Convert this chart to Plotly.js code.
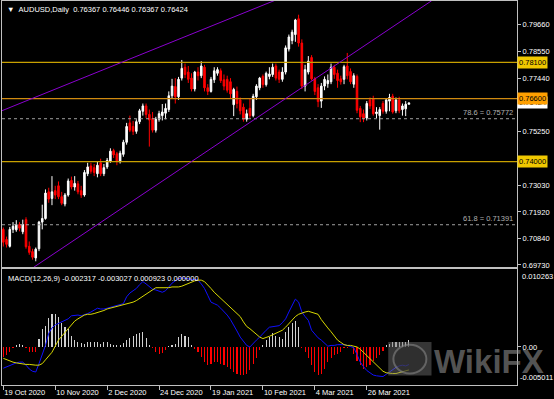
<!DOCTYPE html>
<html>
<head>
<meta charset="utf-8">
<script src="https://cdn.plot.ly/plotly-3.0.1.min.js"></script>
<style>
html,body{margin:0;padding:0;background:#000;overflow:hidden;}
#chart{width:554px;height:399px;}
</style>
</head>
<body>
<div id="chart"></div>
<script>
const symbolName = 'AUDUSD,Daily';
const dates = [
'2020-10-19','2020-10-20','2020-10-21','2020-10-22','2020-10-23','2020-10-26','2020-10-27','2020-10-28','2020-10-29','2020-10-30',
'2020-11-02','2020-11-03','2020-11-04','2020-11-05','2020-11-06','2020-11-09','2020-11-10','2020-11-11','2020-11-12','2020-11-13','2020-11-16','2020-11-17','2020-11-18','2020-11-19','2020-11-20','2020-11-23','2020-11-24','2020-11-25','2020-11-26','2020-11-27','2020-11-30',
'2020-12-01','2020-12-02','2020-12-03','2020-12-04','2020-12-07','2020-12-08','2020-12-09','2020-12-10','2020-12-11','2020-12-14','2020-12-15','2020-12-16','2020-12-17','2020-12-18','2020-12-21','2020-12-22','2020-12-23','2020-12-24','2020-12-28','2020-12-29','2020-12-30','2020-12-31',
'2021-01-04','2021-01-05','2021-01-06','2021-01-07','2021-01-08','2021-01-11','2021-01-12','2021-01-13','2021-01-14','2021-01-15','2021-01-18','2021-01-19','2021-01-20','2021-01-21','2021-01-22','2021-01-25','2021-01-26','2021-01-27','2021-01-28','2021-01-29',
'2021-02-01','2021-02-02','2021-02-03','2021-02-04','2021-02-05','2021-02-08','2021-02-09','2021-02-10','2021-02-11','2021-02-12','2021-02-15','2021-02-16','2021-02-17','2021-02-18','2021-02-19','2021-02-22','2021-02-23','2021-02-24','2021-02-25','2021-02-26',
'2021-03-01','2021-03-02','2021-03-03','2021-03-04','2021-03-05','2021-03-08','2021-03-09','2021-03-10','2021-03-11','2021-03-12','2021-03-15','2021-03-16','2021-03-17','2021-03-18','2021-03-19','2021-03-22','2021-03-23','2021-03-24','2021-03-25','2021-03-26','2021-03-29','2021-03-30','2021-03-31',
'2021-04-01','2021-04-02','2021-04-05','2021-04-06','2021-04-07','2021-04-08','2021-04-09','2021-04-12','2021-04-13','2021-04-14'];

const open = [
0.7120,0.7078,0.7050,0.7120,0.7118,0.7140,0.7110,0.7160,0.7050,0.7028,
0.7002,0.7040,0.7150,0.7165,0.7275,0.7248,0.7280,0.7300,0.7255,0.7225,
0.7262,0.7322,0.7295,0.7308,0.7280,0.7262,0.7350,0.7382,0.7375,0.7350,
0.7395,0.7350,0.7378,0.7401,0.7445,0.7432,0.7400,0.7430,0.7480,0.7560,
0.7545,0.7525,0.7565,0.7608,0.7630,0.7595,0.7578,0.7530,0.7575,0.7590,
0.7600,0.7615,0.7672,0.7710,0.7668,0.7745,0.7790,0.7770,0.7745,0.7700,
0.7770,0.7755,0.7790,0.7705,0.7690,0.7738,0.7765,0.7775,0.7738,0.7740,
0.7730,0.7635,0.7690,0.7655,0.7625,0.7575,0.7620,0.7590,0.7668,0.7705,
0.7752,0.7718,0.7752,0.7760,0.7795,0.7770,0.7740,0.7770,0.7865,0.7900,
0.7925,0.7990,0.7890,0.7712,0.7770,0.7830,0.7742,0.7705,0.7650,0.7712,
0.7722,0.7730,0.7790,0.7765,0.7742,0.7740,0.7795,0.7772,0.7720,0.7752,
0.7620,0.7598,0.7580,0.7655,0.7660,0.7598,0.7590,0.7640,0.7608,0.7650,
0.7670,0.7610,0.7655,0.7615,0.7618,0.76367];
const high = [
0.7128,0.7090,0.7130,0.7150,0.7158,0.7150,0.7160,0.7170,0.7070,0.7040,
0.7045,0.7155,0.7222,0.7285,0.7292,0.7340,0.7300,0.7318,0.7275,0.7270,
0.7330,0.7338,0.7340,0.7320,0.7300,0.7365,0.7395,0.7395,0.7390,0.7400,
0.7412,0.7390,0.7415,0.7455,0.7453,0.7440,0.7445,0.7490,0.7560,0.7590,
0.7568,0.7575,0.7618,0.7640,0.7640,0.7615,0.7605,0.7585,0.7610,0.7638,
0.7640,0.7690,0.7742,0.7745,0.7750,0.7820,0.7805,0.7795,0.7765,0.7775,
0.7790,0.7815,0.7800,0.7720,0.7750,0.7790,0.7790,0.7785,0.7760,0.7755,
0.7745,0.7705,0.7710,0.7665,0.7640,0.7615,0.7660,0.7680,0.7720,0.7750,
0.7760,0.7772,0.7790,0.7805,0.7805,0.7780,0.7790,0.7880,0.7925,0.7945,
0.7990,0.8007,0.7905,0.7800,0.7836,0.7840,0.7750,0.7720,0.7725,0.7752,
0.7760,0.7805,0.7800,0.7780,0.7755,0.7800,0.7849,0.7785,0.7765,0.7760,
0.7630,0.7615,0.7650,0.7665,0.7672,0.7625,0.7625,0.7650,0.7662,0.7680,
0.7680,0.7665,0.7668,0.7640,0.7650,0.76446];
const low = [
0.7049,0.7045,0.7045,0.7105,0.7110,0.7112,0.7100,0.7040,0.7015,0.6995,
0.6988,0.7030,0.7120,0.7160,0.7230,0.7220,0.7245,0.7245,0.7220,0.7215,
0.7255,0.7285,0.7280,0.7265,0.7250,0.7255,0.7340,0.7350,0.7340,0.7335,
0.7340,0.7340,0.7370,0.7395,0.7415,0.7385,0.7392,0.7420,0.7470,0.7522,
0.7510,0.7515,0.7555,0.7590,0.7580,0.7462,0.7520,0.7520,0.7565,0.7570,
0.7575,0.7605,0.7662,0.7640,0.7655,0.7735,0.7745,0.7725,0.7690,0.7690,
0.7735,0.7745,0.7690,0.7675,0.7685,0.7725,0.7755,0.7725,0.7695,0.7685,
0.7660,0.7588,0.7620,0.7595,0.7565,0.7565,0.7580,0.7583,0.7655,0.7695,
0.7705,0.7710,0.7740,0.7750,0.7735,0.7725,0.7730,0.7760,0.7855,0.7885,
0.7895,0.7875,0.7700,0.7690,0.7760,0.7735,0.7675,0.7625,0.7622,0.7695,
0.7705,0.7720,0.7742,0.7705,0.7718,0.7720,0.7740,0.7720,0.7705,0.7600,
0.7563,0.7563,0.7570,0.7618,0.7590,0.7580,0.7532,0.7598,0.7598,0.7608,
0.7598,0.7600,0.7600,0.7590,0.7588,0.76367];
const close = [
0.7067,0.7058,0.7120,0.7133,0.7140,0.7125,0.7140,0.7048,0.7025,0.7005,
0.7038,0.7150,0.7165,0.7270,0.7245,0.7275,0.7262,0.7255,0.7228,0.7262,
0.7320,0.7295,0.7310,0.7275,0.7262,0.7355,0.7378,0.7360,0.7355,0.7385,
0.7350,0.7375,0.7405,0.7443,0.7428,0.7400,0.7435,0.7480,0.7545,0.7530,
0.7525,0.7565,0.7610,0.7630,0.7595,0.7572,0.7530,0.7575,0.7598,0.7605,
0.7620,0.7672,0.7712,0.7668,0.7740,0.7785,0.7760,0.7740,0.7700,0.7770,
0.7755,0.7795,0.7705,0.7690,0.7740,0.7775,0.7780,0.7735,0.7712,0.7695,
0.7680,0.7698,0.7640,0.7610,0.7575,0.7598,0.7590,0.7670,0.7712,0.7745,
0.7718,0.7765,0.7762,0.7790,0.7745,0.7740,0.7770,0.7870,0.7915,0.7935,
0.7985,0.7890,0.7712,0.7780,0.7815,0.7742,0.7690,0.7648,0.7712,0.7740,
0.7735,0.7790,0.7760,0.7735,0.7730,0.7792,0.7755,0.7730,0.7755,0.7612,
0.7585,0.7580,0.7640,0.7630,0.7598,0.7605,0.7615,0.7608,0.7655,0.7665,
0.7605,0.7655,0.7610,0.7630,0.7637,0.76424];

const macdMain = [
-0.0028,-0.0026,-0.0024,-0.0022,-0.0021,-0.0020,-0.0020,-0.0024,-0.0029,-0.0032,
-0.0033,-0.0022,-0.0010,0.0002,0.0018,0.0025,0.0029,0.0031,0.0033,0.0035,
0.0037,0.0041,0.0042,0.0042,0.0041,0.0042,0.0044,0.0046,0.0048,0.0051,
0.0050,0.0050,0.0051,0.0052,0.0053,0.0054,0.0055,0.0057,0.0066,0.0071,
0.0074,0.0077,0.0082,0.0086,0.0083,0.0079,0.0076,0.0075,0.0073,0.0072,
0.0074,0.0079,0.0084,0.0087,0.0090,0.0091,0.0090,0.0090,0.0089,0.0089,
0.0088,0.0083,0.0077,0.0068,0.0059,0.0057,0.0055,0.0051,0.0047,0.0042,
0.0036,0.0029,0.0021,0.0013,0.0008,0.0002,0.0000,0.0005,0.0009,0.0013,
0.0018,0.0022,0.0026,0.0027,0.0028,0.0028,0.0032,0.0037,0.0046,0.0055,
0.0063,0.0059,0.0046,0.0040,0.0035,0.0022,0.0017,0.0012,0.0009,0.0005,
0.0001,0.0002,0.0002,0.0003,0.0003,0.0003,0.0002,0.0001,-0.0001,-0.0010,
-0.0020,-0.0026,-0.0031,-0.0034,-0.0037,-0.0038,-0.0039,-0.0039,-0.0036,-0.0033,
-0.0029,-0.0027,-0.0025,-0.0024,-0.0025,-0.002317];
const macdSignal = [
-0.0015,-0.0017,-0.0019,-0.0020,-0.0021,-0.0022,-0.0022,-0.0023,-0.0023,-0.0024,
-0.0024,-0.0024,-0.0022,-0.0017,-0.0012,-0.0007,0.0001,0.0009,0.0014,0.0019,
0.0024,0.0030,0.0034,0.0037,0.0040,0.0042,0.0043,0.0043,0.0044,0.0045,
0.0047,0.0048,0.0050,0.0051,0.0053,0.0054,0.0054,0.0055,0.0056,0.0058,
0.0059,0.0061,0.0064,0.0067,0.0070,0.0073,0.0076,0.0078,0.0078,0.0078,
0.0078,0.0078,0.0079,0.0079,0.0079,0.0080,0.0082,0.0083,0.0085,0.0087,
0.0088,0.0088,0.0086,0.0082,0.0077,0.0072,0.0068,0.0065,0.0061,0.0057,
0.0053,0.0049,0.0044,0.0040,0.0033,0.0027,0.0024,0.0020,0.0016,0.0013,
0.0011,0.0012,0.0014,0.0016,0.0018,0.0020,0.0022,0.0026,0.0031,0.0035,
0.0040,0.0043,0.0045,0.0046,0.0047,0.0046,0.0045,0.0043,0.0036,0.0030,
0.0025,0.0020,0.0014,0.0009,0.0006,0.0003,0.0002,0.0002,0.0001,0.0000,
-0.0003,-0.0007,-0.0011,-0.0015,-0.0020,-0.0024,-0.0028,-0.0032,-0.0034,-0.0035,
-0.0035,-0.0035,-0.0034,-0.0032,-0.0031,-0.003027];
const macdHist = [
-0.0013,-0.0011,-0.0007,-0.0002,0.0002,0.0004,0.0003,-0.0001,-0.0007,-0.0007,
-0.0006,0.0011,0.0024,0.0028,0.0038,0.0043,0.0043,0.0040,0.0031,0.0026,
0.0024,0.0015,0.0009,0.0006,0.0005,0.0004,0.0007,0.0007,0.0007,0.0006,
0.0004,0.0006,0.0007,0.0004,0.0003,0.0003,0.0002,0.0005,0.0009,0.0012,
0.0015,0.0017,0.0019,0.0020,0.0012,0.0003,-0.0002,-0.0007,-0.0009,-0.0008,
-0.0004,0.0001,0.0002,0.0004,0.0013,0.0017,0.0015,0.0013,0.0002,-0.0003,
-0.0007,-0.0013,-0.0020,-0.0024,-0.0022,-0.0020,-0.0020,-0.0022,-0.0024,-0.0026,
-0.0029,-0.0033,-0.0035,-0.0037,-0.0037,-0.0036,-0.0030,-0.0022,-0.0015,-0.0004,
0.0002,0.0009,0.0013,0.0018,0.0015,0.0013,0.0011,0.0020,0.0026,0.0031,
0.0034,0.0026,-0.0002,-0.0007,-0.0015,-0.0024,-0.0033,-0.0037,-0.0035,-0.0029,
-0.0020,-0.0015,-0.0011,-0.0009,-0.0006,-0.0002,-0.0001,0.0000,-0.0009,-0.0018,
-0.0024,-0.0029,-0.0026,-0.0024,-0.0018,-0.0015,-0.0011,-0.0005,0.0002,0.0004,
0.0006,0.0007,0.0007,0.0007,0.0007,0.000923];
const macdExtra = 0.0;
const macdParams = '12,26,9';

const timeTickDates = ['2020-10-19','2020-11-10','2020-12-02','2020-12-24','2021-01-19','2021-02-10','2021-03-04','2021-03-26'];
const timeTickLabels = ['19 Oct 2020','10 Nov 2020','2 Dec 2020','24 Dec 2020','19 Jan 2021','10 Feb 2021','4 Mar 2021','26 Mar 2021'];
const priceTicks = [0.7966,0.7855,0.7744,0.7525,0.7303,0.7192,0.7084,0.6973];
const levelPrices = [0.781, 0.766, 0.740];
const fibLevels = [0.75772, 0.71391];
const fibNames = ['78.6', '61.8'];
const macdScaleMax = 0.010263;
const macdScaleMin = -0.005011;
const trendLowerX = [9.4, 132];
const trendLowerY = [0.69637, 0.80647];
const trendUpperX = [-0.4, 84];
const trendUpperY = [0.76104, 0.80679];

// ---------- styling ----------
const FONT = 'Liberation Sans, Arial, sans-serif';
const FS = 7.5;
const levelStyle = [
  {line:'#c8a000', box:'#f0c800'},
  {line:'#d08a10', box:'#ffa000'},
  {line:'#c8a000', box:'#f0c800'}
];
const n = dates.length;
const last = n - 1;
const NB = '\u00a0';

const traces = [
  {
    type:'candlestick', x:dates, open:open, high:high, low:low, close:close,
    xaxis:'x', yaxis:'y', whiskerwidth:0, hoverinfo:'skip',
    increasing:{line:{color:'#ffffff', width:1}, fillcolor:'#ffffff'},
    decreasing:{line:{color:'#ff0000', width:1}, fillcolor:'#ff0000'}
  },
  {
    type:'bar', x:dates, y:macdHist, xaxis:'x2', yaxis:'y2', width:0.34,
    marker:{color: macdHist.map(v => v >= 0 ? '#d0d0d0' : '#ff0000'), line:{width:0}},
    hoverinfo:'skip'
  },
  {
    type:'scatter', mode:'lines', x:dates, y:macdMain, xaxis:'x2', yaxis:'y2',
    line:{color:'#1010ff', width:1}, hoverinfo:'skip'
  },
  {
    type:'scatter', mode:'lines', x:dates, y:macdSignal, xaxis:'x2', yaxis:'y2',
    line:{color:'#d8d800', width:1}, hoverinfo:'skip'
  }
];

const shapes = [];
levelPrices.forEach((p, k) => {
  shapes.push({type:'line', xref:'x domain', yref:'y', x0:0, x1:1, y0:p, y1:p,
    line:{color:levelStyle[k].line, width:1.3}, layer:'above'});
});
fibLevels.forEach(p => {
  shapes.push({type:'line', xref:'x domain', yref:'y', x0:0, x1:1, y0:p, y1:p,
    line:{color:'#a0a0a0', width:1, dash:'dot'}, layer:'above'});
});
shapes.push({type:'line', xref:'x', yref:'y', x0:trendLowerX[0], x1:trendLowerX[1], y0:trendLowerY[0], y1:trendLowerY[1],
  line:{color:'#8a00d0', width:1}, layer:'above'});
shapes.push({type:'line', xref:'x', yref:'y', x0:trendUpperX[0], x1:trendUpperX[1], y0:trendUpperY[0], y1:trendUpperY[1],
  line:{color:'#8a00d0', width:1}, layer:'above'});
// watermark logo
shapes.push({type:'rect', xref:'paper', yref:'paper', x0:0.750, x1:0.834, y0:0.025, y1:0.112,
  fillcolor:'rgba(120,120,120,0.45)', line:{width:0}, layer:'above'});
shapes.push({type:'circle', xref:'paper', yref:'paper', x0:0.760, x1:0.824, y0:0.030, y1:0.105,
  fillcolor:'rgba(40,40,40,0.5)', line:{color:'rgba(150,150,150,0.5)', width:2}, layer:'above'});

const annotations = [];
annotations.push({xref:'paper', yref:'paper', x:0.006, y:1, xanchor:'left', yanchor:'top', yshift:-2, showarrow:false,
  text:'\u25BC' + NB + NB + symbolName + NB + NB + [open[last], high[last], low[last], close[last]].map(v => v.toFixed(5)).join(NB),
  font:{family:FONT, size:FS, color:'#ffffff'}});
annotations.push({xref:'paper', yref:'paper', x:0.008, y:0.302, xanchor:'left', yanchor:'top', yshift:-3, showarrow:false,
  text:'MACD(' + macdParams + ')' + NB + [macdMain[last], macdSignal[last], macdHist[last], macdExtra].map(v => v.toFixed(6)).join(NB),
  font:{family:FONT, size:FS, color:'#ffffff'}});
fibLevels.forEach((p, k) => {
  annotations.push({xref:'paper', yref:'y', x:0.996, y:p, xanchor:'right', yanchor:'bottom', yshift:0, showarrow:false,
    text:fibNames[k] + ' = ' + p.toFixed(5), font:{family:FONT, size:FS, color:'#b0b0b0'}});
});
// current price label (below) then level labels
annotations.push({xref:'paper', yref:'y', x:1.0005, y:close[last], xanchor:'left', yanchor:'middle', showarrow:false,
  text:close[last].toFixed(5), bgcolor:'#ffffff', font:{family:FONT, size:FS, color:'#000000'}, borderpad:1});
levelPrices.forEach((p, k) => {
  annotations.push({xref:'paper', yref:'y', x:1.0005, y:p, xanchor:'left', yanchor:'middle', showarrow:false,
    text:p.toFixed(5), bgcolor:levelStyle[k].box, font:{family:FONT, size:FS, color:'#000000'}, borderpad:1});
});
annotations.push({xref:'paper', yref:'y2', x:1.006, y:macdScaleMax, xanchor:'left', yanchor:'top', yshift:-1, showarrow:false,
  text:macdScaleMax.toFixed(6), font:{family:FONT, size:FS, color:'#ffffff'}});
annotations.push({xref:'paper', yref:'y2', x:1.001, y:macdScaleMin, xanchor:'left', yanchor:'bottom', yshift:1, showarrow:false,
  text:macdScaleMin.toFixed(6), font:{family:FONT, size:FS, color:'#ffffff'}});
// watermark text
annotations.push({xref:'paper', yref:'paper', x:0.946, y:0.062, xanchor:'center', yanchor:'middle', showarrow:false,
  text:'<b>WikiFX</b>', font:{family:FONT, size:33, color:'rgba(140,140,140,0.6)'}});

const axisLine = '#c0c0c0';
const layout = {
  width:554, height:399,
  margin:{l:2, r:37, t:1, b:14},
  paper_bgcolor:'#000000', plot_bgcolor:'#000000',
  showlegend:false, boxgap:0.3, bargap:0,
  font:{family:FONT, size:FS, color:'#ffffff'},
  xaxis:{type:'category', domain:[0,1], anchor:'y', range:[-0.4, 158.3], showticklabels:false, ticks:'',
    showgrid:false, zeroline:false, showline:true, mirror:true, linecolor:axisLine, linewidth:1,
    rangeslider:{visible:false}, fixedrange:true},
  yaxis:{domain:[0.30729,1], anchor:'x', side:'right', range:[0.696446, 0.806364],
    tickvals:priceTicks, ticktext:priceTicks.map(v => v.toFixed(5)), ticks:'outside', ticklen:3, tickcolor:axisLine,
    tickfont:{family:FONT, size:FS, color:'#ffffff'},
    showgrid:false, zeroline:false, showline:true, mirror:true, linecolor:axisLine, linewidth:1, fixedrange:true},
  xaxis2:{type:'category', matches:'x', anchor:'y2', domain:[0,1],
    tickvals:timeTickDates, ticktext:timeTickLabels, ticks:'outside', ticklen:4, tickcolor:axisLine,
    ticklabelposition:'outside right', tickfont:{family:FONT, size:FS, color:'#ffffff'}, tickangle:0,
    showgrid:false, zeroline:false, showline:true, mirror:true, linecolor:axisLine, linewidth:1, fixedrange:true},
  yaxis2:{domain:[0,0.30208], anchor:'x2', side:'right', range:[macdScaleMin, macdScaleMax],
    tickvals:[0], ticktext:['0.00'], ticks:'outside', ticklen:3, tickcolor:axisLine,
    tickfont:{family:FONT, size:FS, color:'#ffffff'},
    showgrid:false, zeroline:false, showline:true, mirror:true, linecolor:axisLine, linewidth:1, fixedrange:true},
  shapes:shapes,
  annotations:annotations
};

Plotly.newPlot('chart', traces, layout, {staticPlot:true, displayModeBar:false});
</script>
</body>
</html>
